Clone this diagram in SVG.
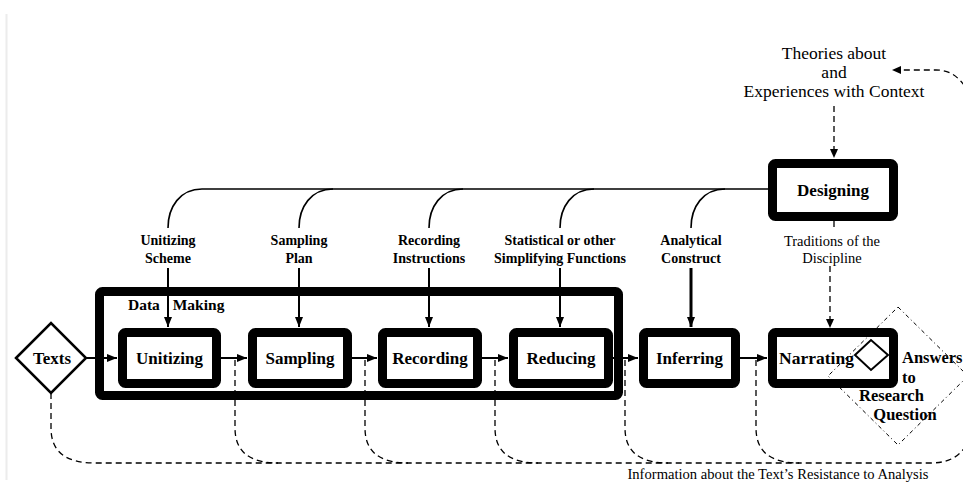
<svg xmlns="http://www.w3.org/2000/svg" width="963" height="483" viewBox="0 0 963 483">
<defs>
<marker id="ah" markerUnits="userSpaceOnUse" markerWidth="10" markerHeight="8" refX="10" refY="4" orient="auto">
<path d="M0,0 L10,4 L0,8 z" fill="#000"/>
</marker>
<style>
.box{fill:#fff;stroke:#000;stroke-width:9;stroke-linejoin:round}
.frame{fill:none;stroke:#000;stroke-width:9;stroke-linejoin:round}
.ln{fill:none;stroke:#000;stroke-width:1.6}
.arr{fill:none;stroke:#000;stroke-width:2;marker-end:url(#ah)}
.dash{fill:none;stroke:#000;stroke-width:1.3;stroke-dasharray:6,4}
.t{font-family:"Liberation Serif","Times New Roman",serif;fill:#000;text-anchor:middle}
.b13{font-size:14px;font-weight:bold}
.b17{font-size:17px;font-weight:bold}
.ans{font-size:16.5px;font-weight:bold}
.r{font-size:17.5px}
.r14{font-size:14.5px}
</style>
</defs>
<rect width="963" height="483" fill="#fff"/>
<line x1="6.5" y1="14" x2="6.5" y2="480" stroke="#ececec" stroke-width="2"/>

<g id="data-making">
<rect class="frame" x="99.5" y="291.5" width="519" height="104" rx="3"/>
<text class="t" style="text-anchor:start;font-size:15.5px;font-weight:bold" x="128" y="310" word-spacing="9">Data Making</text>
</g>

<g id="connectors">
<path class="ln" d="M168,228 C168,207 180,189 202,189 H768"/>
<path class="ln" d="M299,228 C299,207 311,189 333,189"/>
<path class="ln" d="M429,228 C429,207 441,189 463,189"/>
<path class="ln" d="M560,228 C560,207 572,189 594,189"/>
<path class="ln" d="M691,228 C691,207 703,189 725,189"/>
<path class="arr" d="M168,268 V327"/>
<path class="arr" d="M299,268 V327"/>
<path class="arr" d="M429,268 V327"/>
<path class="arr" d="M560,268 V327"/>
<path class="arr" d="M691,268 V327" style="stroke-width:3"/>
<path class="arr" d="M86,358 H117"/>
<path class="arr" d="M221,358 H247"/>
<path class="arr" d="M352,358 H377"/>
<path class="arr" d="M482,358 H508"/>
<path class="arr" d="M613,358 H638"/>
<path class="arr" d="M740,358 H767"/>
<path class="dash" d="M834,106 V150"/>
<path d="M834,158 l-4,-9 h8 z" fill="#000"/>
<path class="dash" d="M834,221 V229"/>
<path class="dash" d="M830,266 V320"/>
<path d="M830,328 l-4,-9 h8 z" fill="#000"/>
<path class="dash" d="M970,94 C961,79 952,70 936,70 H901"/>
<path d="M892,70 l9,-4 v8 z" fill="#000"/>
<path class="dash" d="M51,393 V428 C51,452 66,463 95,463 H930 C950,463 962,456 970,438"/>
<path class="dash" d="M235,360 V428 C235,452 250,463 278,463"/>
<path class="dash" d="M365,360 V428 C365,452 380,463 408,463"/>
<path class="dash" d="M495,360 V428 C495,452 510,463 538,463"/>
<path class="dash" d="M625,360 V428 C625,452 640,463 668,463"/>
<path class="dash" d="M756,360 V428 C756,452 771,463 799,463"/>
</g>

<g id="texts">
<polygon points="16,358 51,323 86,358 51,393" fill="#fff" stroke="#000" stroke-width="2.5"/>
<text class="t b17" x="52" y="364">Texts</text>
</g>

<g id="unitizing">
<rect class="box" x="122.5" y="332.5" width="94" height="51" rx="3"/>
<text class="t b17" x="169.5" y="364">Unitizing</text>
</g>
<g id="sampling">
<rect class="box" x="252.5" y="332.5" width="95" height="51" rx="3"/>
<text class="t b17" x="300" y="364">Sampling</text>
</g>
<g id="recording">
<rect class="box" x="382.5" y="332.5" width="95" height="51" rx="3"/>
<text class="t b17" x="430" y="364">Recording</text>
</g>
<g id="reducing">
<rect class="box" x="513.5" y="332.5" width="95" height="51" rx="3"/>
<text class="t b17" x="561" y="364">Reducing</text>
</g>
<g id="inferring">
<rect class="box" x="643.5" y="332.5" width="92" height="51" rx="3"/>
<text class="t b17" x="689.5" y="364">Inferring</text>
</g>
<g id="narrating">
<rect class="box" x="772.5" y="332.5" width="121" height="51" rx="3"/>
<text class="t b17" x="816.5" y="364" style="font-size:17.5px">Narrating</text>
</g>
<g id="designing">
<rect class="box" x="772.5" y="163.5" width="121" height="53" rx="3"/>
<text class="t b17" x="833" y="196">Designing</text>
</g>

<g id="answers">
<polygon points="898,307 968,376 898,445 828,376" fill="none" stroke="#000" stroke-width="1" stroke-dasharray="4,3,1,3"/>
<polygon points="855,355 871,340 888,355 871,370" fill="#fff" stroke="#000" stroke-width="2"/>
<text class="t ans" style="text-anchor:start" x="902" y="363">Answers</text>
<text class="t ans" style="text-anchor:start" x="902" y="383">to</text>
<text class="t ans" x="891.5" y="401">Research</text>
<text class="t ans" x="905" y="420">Question</text>
</g>

<g id="labels">
<text class="t r" x="834" y="59">Theories about</text>
<text class="t r" x="834" y="78">and</text>
<text class="t r" x="834" y="97">Experiences with Context</text>
<text class="t b13" x="168" y="245">Unitizing</text>
<text class="t b13" x="168" y="263">Scheme</text>
<text class="t b13" x="299" y="245">Sampling</text>
<text class="t b13" x="299" y="263">Plan</text>
<text class="t b13" x="429" y="245">Recording</text>
<text class="t b13" x="429" y="263">Instructions</text>
<text class="t b13" x="560" y="245">Statistical or other</text>
<text class="t b13" x="560" y="263">Simplifying Functions</text>
<text class="t b13" x="691" y="245">Analytical</text>
<text class="t b13" x="691" y="263">Construct</text>
<text class="t r14" x="832" y="246">Traditions of the</text>
<text class="t r14" x="832" y="263">Discipline</text>
<text class="t" style="font-size:14.6px" x="778" y="479">Information about the Text’s Resistance to Analysis</text>
</g>
</svg>
